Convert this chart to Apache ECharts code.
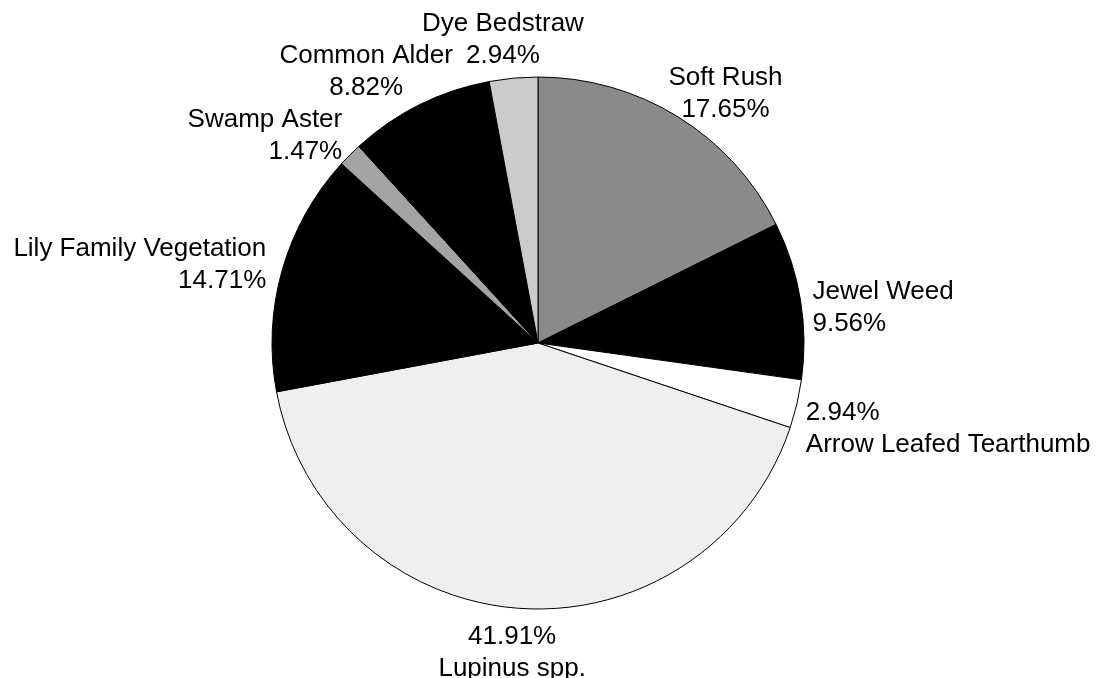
<!DOCTYPE html>
<html>
<head>
<meta charset="utf-8">
<script src="https://cdn.jsdelivr.net/npm/echarts@6/dist/echarts.min.js"></script>
<style>
  html, body { margin: 0; padding: 0; background: #fff; }
  #chart { width: 1104px; height: 678px; }
</style>
</head>
<body>
<div id="chart"></div>
<script>
// ---- data (clockwise from 12 o'clock) ----
const categories = ['Soft Rush', 'Jewel Weed', 'Arrow Leafed Tearthumb', 'Lupinus spp.',
                    'Lily Family Vegetation', 'Swamp Aster', 'Common Alder', 'Dye Bedstraw'];
const percents = [17.65, 9.56, 2.94, 41.91, 14.71, 1.47, 8.82, 2.94];
const percentFirst = ['Arrow Leafed Tearthumb', 'Lupinus spp.'];

// ---- styles ----
const sliceColors = ['#8a8a8a', '#000000', '#ffffff', '#efefef', '#000000', '#a4a4a4', '#000000', '#cbcbcb'];
const CX = 538, CY = 343, R = 266, GAP = 13;

const total = percents.reduce((a, b) => a + b, 0);
const midAngles = [];
let acc = 0;
percents.forEach(v => { midAngles.push((acc + v / 2) / total * 2 * Math.PI); acc += v; });

const chart = echarts.init(document.getElementById('chart'), null, { renderer: 'canvas' });
chart.setOption({
  backgroundColor: '#ffffff',
  animation: false,
  series: [{
    type: 'pie',
    center: [CX, CY],
    radius: R,
    startAngle: 90,
    clockwise: true,
    avoidLabelOverlap: false,
    minShowLabelAngle: 0,
    silent: true,
    data: categories.map((name, i) => ({
      name: name,
      value: percents[i],
      itemStyle: { color: sliceColors[i] }
    })),
    itemStyle: { borderColor: '#000', borderWidth: 1 },
    label: {
      show: true,
      position: 'outside',
      color: '#000',
      fontFamily: 'Liberation Sans, Arial, sans-serif',
      fontSize: 26,
      lineHeight: 32,
      formatter: function (p) {
        const pct = p.value.toFixed(2) + '%';
        return percentFirst.indexOf(p.name) >= 0 ? pct + '\n' + p.name : p.name + '\n' + pct;
      }
    },
    labelLine: { show: false },
    emphasis: { disabled: true },
    labelLayout: function (params) {
      const i = params.dataIndex;
      const th = midAngles[i];
      const sx = Math.sin(th), sy = -Math.cos(th);
      const w = params.labelRect.width, h = params.labelRect.height;
      const ax = CX + (R + GAP) * sx, ay = CY + (R + GAP) * sy;
      let bx = ax + sx * w / 2, by = ay + sy * h / 2;
      // small placement tweaks mimicking the spreadsheet label placement
      by += sy > 0.5 ? 0 : (sx > 0.3 ? 15 : 7);
      const align = sx > 0.6 ? 'left' : (sx < -0.6 ? 'right' : 'center');
      if (align === 'center') bx += sx * 20;
      if (align === 'right') { bx -= 30 * Math.abs(sy); by += 6 * Math.max(0, Math.abs(sy) - 0.3) / 0.4; }
      const x = align === 'left' ? bx - w / 2 : (align === 'right' ? bx + w / 2 : bx);
      return { x: x, y: by, align: align, verticalAlign: 'middle', hideOverlap: false };
    }
  }]
});
</script>
</body>
</html>
